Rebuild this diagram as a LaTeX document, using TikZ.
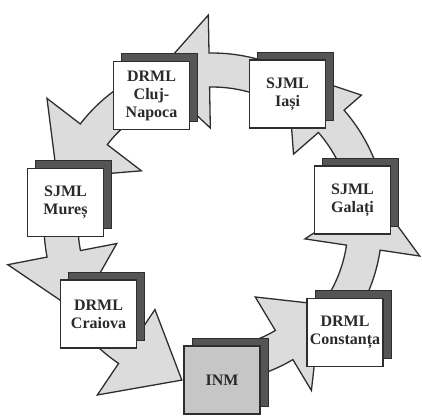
\documentclass[tikz,border=0pt]{standalone}
\usepackage{fontspec}
\setmainfont{Liberation Serif}
\usetikzlibrary{shadows}
\definecolor{arrowfill}{HTML}{DCDCDC}
\definecolor{edgecol}{HTML}{2E2E2E}
\definecolor{shadowcol}{HTML}{555555}
\definecolor{inmfill}{HTML}{C6C6C6}
\definecolor{textcol}{HTML}{2A2A2A}
\tikzset{
  ringarrow/.style={fill=arrowfill, draw=edgecol, line width=1.3pt, line join=miter},
  unitbox/.style={draw=edgecol, line width=1.6pt, fill=white,
    minimum width=76pt, minimum height=68pt, inner sep=0pt, align=center,
    font=\fontsize{16}{18}\selectfont\bfseries, text=textcol,
    general shadow={fill=shadowcol, draw=edgecol, line width=0.6pt,
      shadow xshift=8pt, shadow yshift=8pt}},
}
% #1 radius, #2 start angle, #3 head base angle, #4 tip angle, #5 tip radius,
% #6 inner head half-width, #7 outer head half-width
\newcommand\ringarrow[7]{%
  \pgfmathsetmacro\myrin{#1-17}\pgfmathsetmacro\myrout{#1+17}%
  \pgfmathsetmacro\myhin{#1-#6}\pgfmathsetmacro\myhout{#1+#7}%
  \draw[ringarrow] ([shift={(#2:\myrin pt)}]C)
    arc[start angle=#2, end angle=#3, radius=\myrin pt]
    -- ([shift={(#3:\myhin pt)}]C)
    -- ([shift={(#4:#5pt)}]C)
    -- ([shift={(#3:\myhout pt)}]C)
    -- ([shift={(#3:\myrout pt)}]C)
    arc[start angle=#3, end angle=#2, radius=\myrout pt] -- cycle;}
\begin{document}
\begin{tikzpicture}[x=1pt, y=1pt]
  \fill[white] (0,0) rectangle (422,416);
  \useasboundingbox (0,0) rectangle (422,416);
  \coordinate (C) at (212,191);
  % block arrows, counterclockwise
  \ringarrow{155}{60}{91}{111}{160}{58}{55}   % Iasi -> Cluj
  \ringarrow{149}{120}{142.5}{163}{162}{60}{59} % Cluj -> Mures
  \ringarrow{151}{172}{191}{213}{160}{54}{57} % Mures -> Craiova
  \ringarrow{150}{221}{236}{259}{158}{48}{55} % Craiova -> INM
  \ringarrow{140}{277}{301}{324}{135}{56}{53} % INM -> Constanta
  \ringarrow{153}{326}{351.5}{371}{165}{59}{57} % Constanta -> Galati
  \ringarrow{158}{13}{41}{64}{172}{50}{40}    % Galati -> Iasi
  % boxes
  \node[unitbox] (cluj) at (151.5,320.5) {DRML\\Cluj-\\Napoca};
  \node[unitbox] (iasi) at (287.5,322) {SJML\\Iași};
  \node[unitbox] (galati) at (352.5,216) {SJML\\Galați};
  \node[unitbox] (constanta) at (345,83.5) {DRML\\Constanța};
  \node[unitbox, fill=inmfill] (inm) at (222,36) {INM};
  \node[unitbox] (craiova) at (98.5,102) {DRML\\Craiova};
  \node[unitbox] (mures) at (65.5,213.5) {SJML\\Mureș};
\end{tikzpicture}
\end{document}
